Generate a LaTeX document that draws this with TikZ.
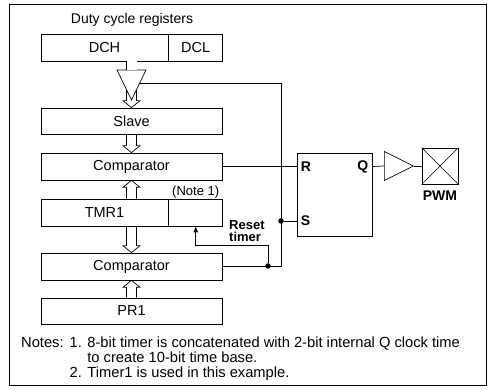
\documentclass[tikz,border=0pt]{standalone}
\usepackage{fontspec}
\setmainfont{Liberation Sans}
\usepackage{xcolor}
\usepackage{tikz}
\usetikzlibrary{positioning,calc,shapes.geometric,arrows.meta}

% hollow bus arrow: start, tip, head offset (+ down, - up)
\newcommand\busarrow[3]{%
  \draw[bus] let \p1=(#1), \p2=(#2) in
    (\x1-5pt,\y1) -- (\x1-5pt,{\y2+(#3)}) -- (\x1-8.5pt,{\y2+(#3)}) -- (\x1,\y2)
    -- (\x1+8.5pt,{\y2+(#3)}) -- (\x1+5pt,{\y2+(#3)}) -- (\x1+5pt,\y1);}

\begin{document}
\begin{tikzpicture}[x=1pt, y=-1pt,
  reg/.style={draw, line width=0.7pt, minimum height=27pt, inner sep=0pt,
              font=\fontsize{14.5}{16}\selectfont},
  bus/.style={line width=0.7pt, line join=miter},
  wire/.style={line width=0.7pt},
  tri/.style={draw, line width=0.7pt, isosceles triangle, isosceles triangle stretches,
              inner sep=0pt},
  dot/.style={circle, fill, inner sep=0pt, minimum size=5.5pt},
  pin/.style={font=\fontsize{14}{16}\selectfont\bfseries, inner sep=1pt},
  lbl/.style={font=\fontsize{14}{16}\selectfont}
]
  \useasboundingbox (0,0) rectangle (488,390);
  \draw[line width=0.9pt] (9,4) rectangle (486,385);

  % Registers
  \node[lbl] (title) at (132,20) {Duty cycle registers};
  \node[reg, minimum width=127pt] (dch) at (104.5,47.5) {DCH};
  \node[reg, minimum width=54pt, right=0pt of dch] (dcl) {DCL};
  \node[reg, minimum width=181pt, minimum height=26pt] (slave) at (131.5,121) {Slave};
  \node[reg, minimum width=181pt] (cmp1) at (131.5,166.5) {Comparator};
  \node[reg, minimum width=127pt] (tmr) at (104.5,212.5) {TMR1};
  \node[reg, minimum width=54pt, right=0pt of tmr] (tmrlo) {};
  \node[lbl, font=\fontsize{13}{15}\selectfont, above=-1pt of tmrlo, inner sep=1pt] (note1) {(Note 1)};
  \node[reg, minimum width=181pt] (cmp2) at (131.5,266.5) {Comparator};
  \node[reg, minimum width=181pt, minimum height=26pt] (pr) at (131.5,311) {PR1};

  % Load gate
  \coordinate (gl) at (117,70);
  \coordinate (gr) at (146,70);
  \coordinate (ga) at (131.5,100);
  \draw[bus] (gl) -- (gr) -- (ga) -- cycle;
  \coordinate (gw) at ($(gr)!0.45!(ga)$);

  % Latch and output
  \node[draw, line width=0.7pt, minimum width=75pt, minimum height=83pt] (latch) at (334.5,194.5) {};
  \node[dot] (jS) at (281,221) {};
  \node[dot] (jR) at (268,266) {};
  \node[pin, right=3pt] (rlab) at (latch.west |- cmp1) {R};
  \node[pin, right=3pt] (slab) at (latch.west |- jS) {S};
  \node[pin, left=3pt] (qlab) at (latch.east |- cmp1) {Q};
  \node[tri, minimum width=29pt, minimum height=29pt, anchor=lower side] (buf) at (384,166) {};
  \node[draw, line width=0.7pt, minimum size=36pt] (pwm) at (440,166) {};
  \draw[wire] (pwm.north west) -- (pwm.south east) (pwm.north east) -- (pwm.south west);
  \node[pin, below=5pt of pwm] (pwmlab) {PWM};

  % Buses
  \draw[wire, double, double distance=10pt] (ga |- dch.south) -- (ga |- gl);
  \busarrow{[yshift=10pt]ga}{slave.north}{7pt}
  \busarrow{slave.south}{cmp1.north}{7pt}
  \busarrow{cmp1.south |- tmr.north}{cmp1.south}{-7pt}
  \busarrow{cmp2.north |- tmr.south}{cmp2.north}{7pt}
  \busarrow{pr.north}{cmp2.south}{-7pt}

  % Wires
  \draw[wire] (gw) -- (gw -| jS.center) |- (cmp2);
  \draw[wire] (cmp1) -- (latch.west |- cmp1);
  \draw[wire] (jS) -- (latch.west |- jS);
  \draw[wire] (latch.east |- cmp1) -- (buf.lower side);
  \draw[wire] (buf.apex) -- (pwm);
  \draw[wire, -{Latex[length=6pt,width=5pt]}] (jR) |- ([yshift=-19pt]tmrlo.south) -- (tmrlo.south);
  \node[pin, font=\fontsize{13}{12}\selectfont\bfseries, align=left, anchor=west] (rst) at (228,231) {Reset\\timer};

  % Notes
  \node[anchor=north west, inner sep=0pt, font=\fontsize{14.7}{14.5}\selectfont] (notes) at (21,337) {%
    \begin{tabular}{@{}l@{\hspace{6pt}}l@{ }l@{}}
      Notes: & 1. & 8-bit timer is concatenated with 2-bit internal Q clock time\\
             &    & to create 10-bit time base.\\
             & 2. & Timer1 is used in this example.
    \end{tabular}};
\end{tikzpicture}
\end{document}
